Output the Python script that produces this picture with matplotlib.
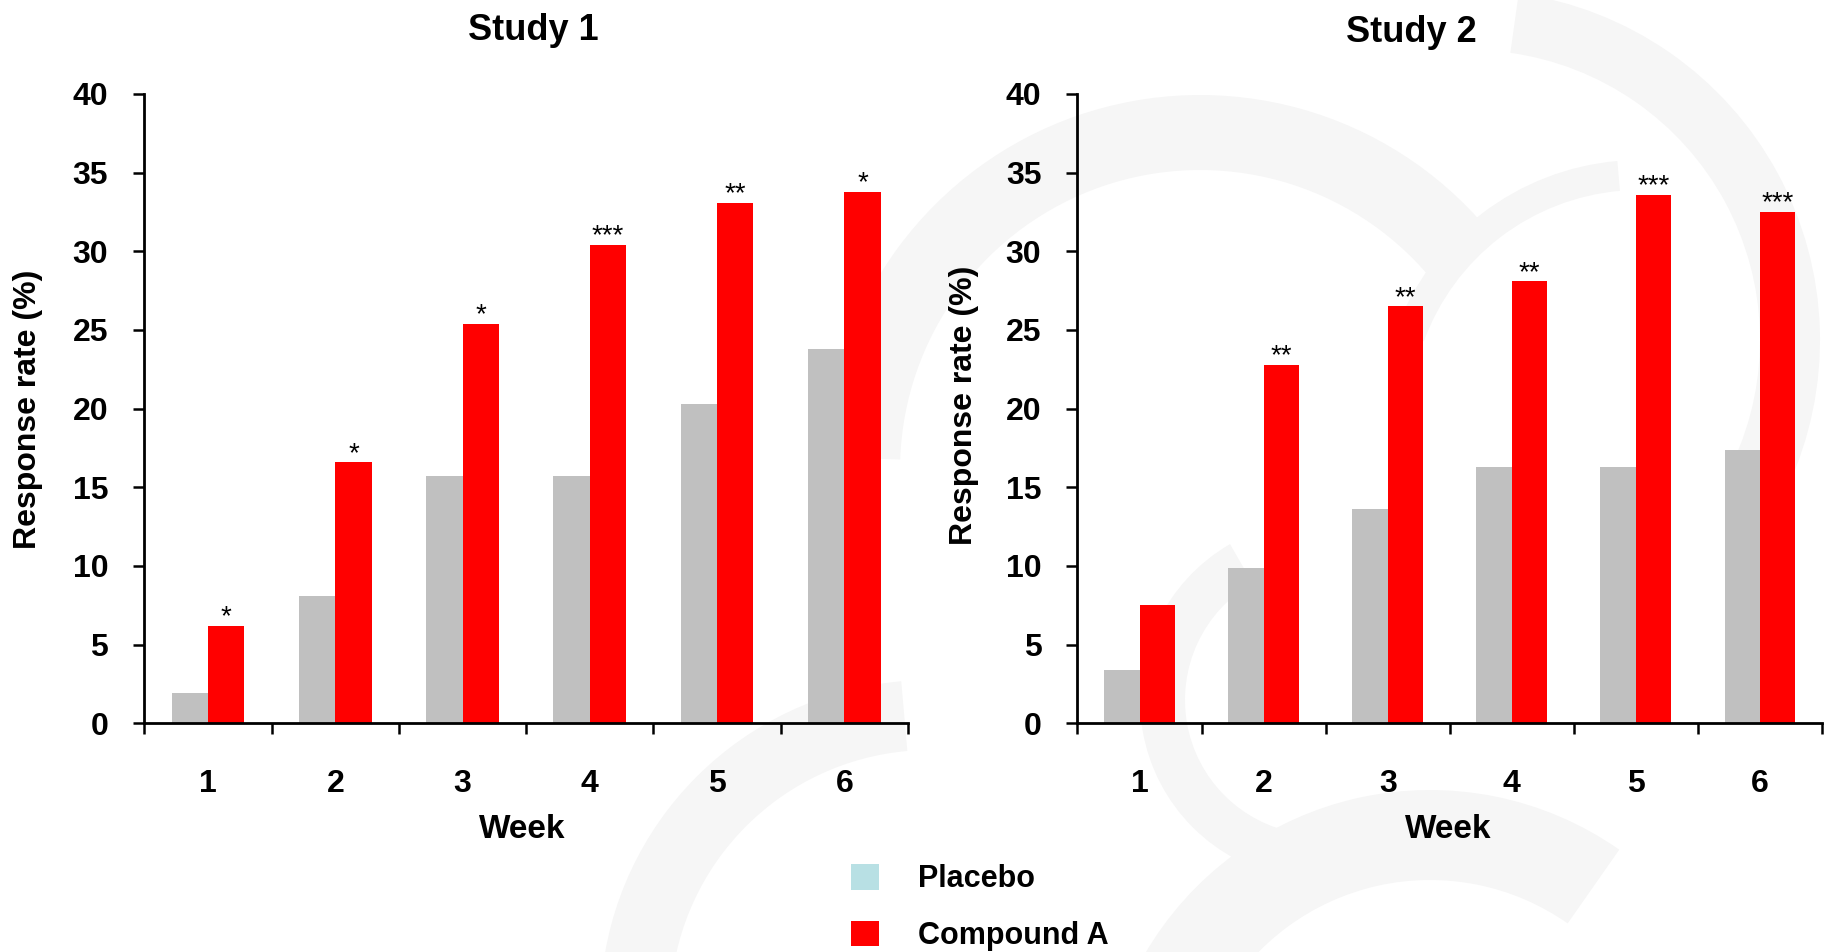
import numpy as np
import matplotlib
matplotlib.use('Agg')
from matplotlib import pyplot as plt
from matplotlib.patches import Patch, Wedge

plt.rcParams['font.family'] = ['Liberation Sans', 'DejaVu Sans']

weeks = ['1', '2', '3', '4', '5', '6']

study1_placebo = [1.9, 8.1, 15.7, 15.7, 20.3, 23.8]
study1_compound = [6.2, 16.6, 25.4, 30.4, 33.1, 33.8]
study1_stars = ['*', '*', '*', '***', '**', '*']

study2_placebo = [3.4, 9.9, 13.6, 16.3, 16.3, 17.4]
study2_compound = [7.5, 22.8, 26.5, 28.1, 33.6, 32.5]
study2_stars = ['', '**', '**', '**', '***', '***']

GREY = '#c0c0c0'
RED = '#ff0000'
LEGEND_PLACEBO = '#b8e0e4'

W, H = 1834, 952


def draw_watermark(fig):
    # faint swirl decoration behind the charts, in pixel units (y from top)
    bg = fig.add_axes([0, 0, 1, 1], zorder=-1)
    bg.set_xlim(0, W)
    bg.set_ylim(0, H)
    bg.axis('off')
    arcs = [
        # cx, cy (from top), radius, theta1, theta2, width
        (1200, 470, 375, 40, 178, 75),
        (1470, 340, 350, -25, 82, 60),
        (1640, 420, 260, 95, 160, 30),
        (930, 1010, 330, 95, 175, 70),
        (1430, 1120, 330, 55, 150, 90),
        (1320, 700, 180, 120, 260, 45),
    ]
    for cx, cy, r, t1, t2, w in arcs:
        bg.add_patch(Wedge((cx, H - cy), r, t1, t2, width=w,
                           facecolor='#f6f6f6', edgecolor='none'))


def plot_study(ax, placebo, compound, stars):
    x = np.arange(len(weeks))
    width = 0.2857
    ax.set_facecolor('none')
    ax.bar(x - width / 2, placebo, width, color=GREY, zorder=2)
    bars = ax.bar(x + width / 2, compound, width, color=RED, zorder=2)
    for bar, star in zip(bars, stars):
        if star:
            ax.annotate(star, (bar.get_x() + bar.get_width() / 2, bar.get_height()),
                        xytext=(0, 1), textcoords='offset points',
                        ha='center', va='baseline', fontsize=20)

    ax.set_xlim(-0.5, len(weeks) - 0.5)
    ax.set_ylim(0, 40)
    ax.set_yticks(np.arange(0, 41, 5))

    # category boundary ticks, labels centred between them
    ax.set_xticks(np.arange(-0.5, len(weeks), 1.0))
    ax.set_xticklabels([])
    ax.set_xticks(x, minor=True)
    ax.set_xticklabels(weeks, minor=True)
    ax.tick_params(axis='x', which='major', direction='out', length=8, width=1.8)
    ax.tick_params(axis='x', which='minor', length=0, pad=33, labelsize=23)
    ax.tick_params(axis='y', direction='out', length=8, width=1.8, pad=18, labelsize=23)
    for lbl in ax.get_xticklabels(minor=True) + ax.get_yticklabels():
        lbl.set_fontweight('bold')

    for side in ['top', 'right']:
        ax.spines[side].set_visible(False)
    for side in ['left', 'bottom']:
        ax.spines[side].set_linewidth(2)


fig = plt.figure(figsize=(W / 100, H / 100), dpi=100)
draw_watermark(fig)

ax1 = fig.add_axes([0.0787, 0.2402, 0.4164, 0.6611])
plot_study(ax1, study1_placebo, study1_compound, study1_stars)

ax2 = fig.add_axes([0.5875, 0.2402, 0.4060, 0.6611])
plot_study(ax2, study2_placebo, study2_compound, study2_stars)

# titles and axis labels placed in figure pixels
fig.text(533 / W, 1 - 40 / H, 'Study 1', ha='center', va='baseline',
         fontsize=26, fontweight='bold')
fig.text(1411 / W, 1 - 42 / H, 'Study 2', ha='center', va='baseline',
         fontsize=26, fontweight='bold')
fig.text(522 / W, 1 - 830 / H, 'Week', ha='center', va='center',
         fontsize=24, fontweight='bold')
fig.text(1448 / W, 1 - 830 / H, 'Week', ha='center', va='center',
         fontsize=24, fontweight='bold')
fig.text(28 / W, 1 - 409 / H, 'Response rate (%)', ha='center', va='center',
         rotation=90, fontsize=23, fontweight='bold')
fig.text(964 / W, 1 - 405 / H, 'Response rate (%)', ha='center', va='center',
         rotation=90, fontsize=23, fontweight='bold')

handles = [Patch(facecolor=LEGEND_PLACEBO, edgecolor='none'),
           Patch(facecolor=RED, edgecolor='none')]
fig.legend(handles, ['Placebo', 'Compound A'], loc='upper left',
           bbox_to_anchor=(851 / W, 1 - 864 / H), frameon=False,
           borderpad=0, borderaxespad=0,
           prop={'size': 22, 'weight': 'bold'},
           handlelength=0.92, handleheight=0.92, handletextpad=1.27,
           labelspacing=0.86)

fig.savefig('out.png', dpi=100)
